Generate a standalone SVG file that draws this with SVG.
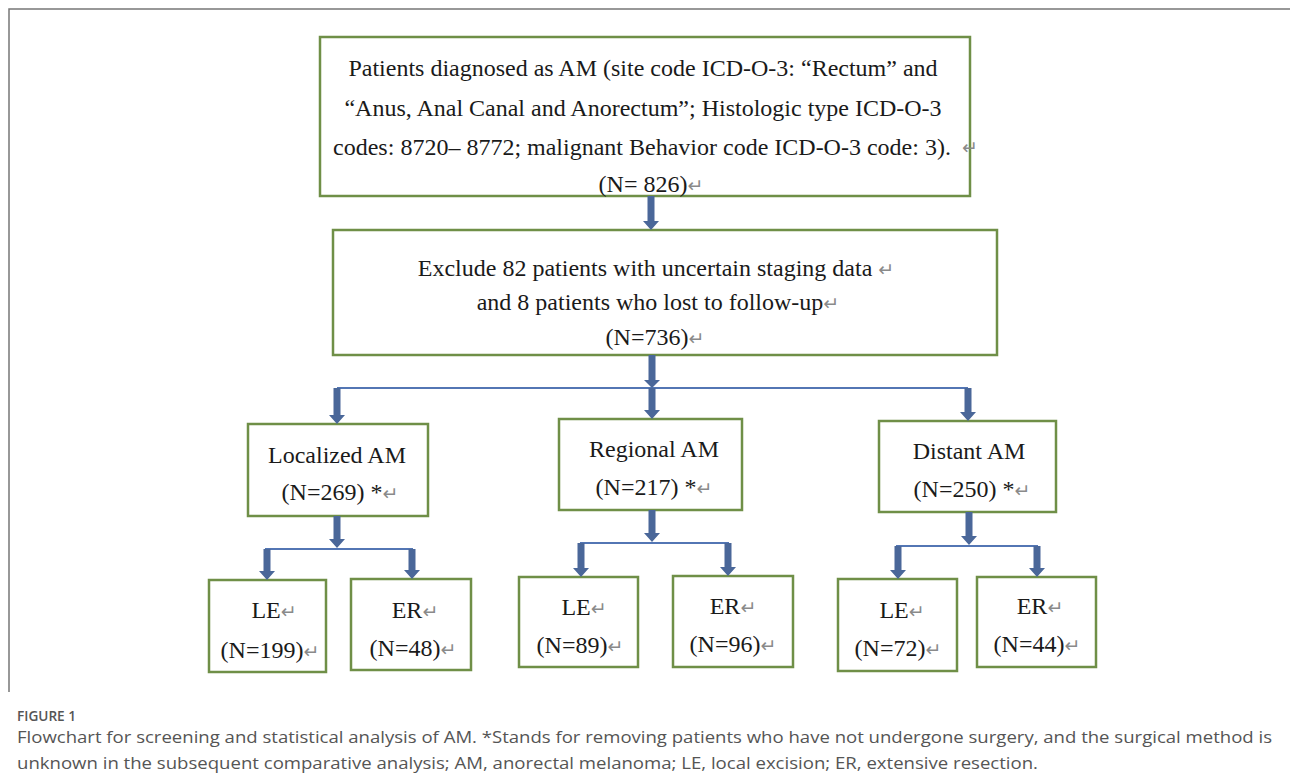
<svg xmlns="http://www.w3.org/2000/svg" width="1290" height="780" viewBox="0 0 1290 780">
<style>
.box{fill:#fff;stroke:#6f8f47;stroke-width:2.5}
.t{font-family:"Liberation Serif","Times New Roman",serif;font-size:24px;fill:#1a1a1a;text-anchor:middle}
.r{fill:#8a8a8a;font-family:"DejaVu Sans",sans-serif;font-size:19px}
.arr{fill:#4a6799}
.hl{stroke:#5376b4;stroke-width:2;fill:none}
.frame{stroke:#777;stroke-width:1.5;fill:none}
.cap{font-family:"Open Sans","DejaVu Sans",sans-serif;fill:#555}
</style>
<path class="frame" d="M9 692 V9 H1290"/>

<g id="n1">
<rect class="box" x="320" y="37" width="650" height="159"/>
<text class="t" x="643" y="76">Patients diagnosed as AM (site code ICD-O-3: “Rectum” and</text>
<text class="t" x="643" y="116">“Anus, Anal Canal and Anorectum”; Histologic type ICD-O-3</text>
<text class="t" x="642" y="155">codes: 8720– 8772; malignant Behavior code ICD-O-3 code: 3).</text>
<text class="t r" x="962" y="154" style="text-anchor:start">↵</text>
<text class="t" x="651" y="192">(N= 826)<tspan class="r">↵</tspan></text>
</g>

<g id="n2">
<rect class="box" x="333" y="230" width="664" height="125"/>
<text class="t" x="656" y="276">Exclude 82 patients with uncertain staging data <tspan class="r">↵</tspan></text>
<text class="t" x="658" y="310">and 8 patients who lost to follow-up<tspan class="r">↵</tspan></text>
<text class="t" x="655" y="345">(N=736)<tspan class="r">↵</tspan></text>
</g>

<g id="n3">
<rect class="box" x="248" y="424" width="180" height="92"/>
<text class="t" x="337" y="463">Localized AM</text>
<text class="t" x="340" y="500">(N=269) *<tspan class="r">↵</tspan></text>
</g>
<g id="n4">
<rect class="box" x="559" y="419" width="183" height="91"/>
<text class="t" x="654" y="457">Regional AM</text>
<text class="t" x="654" y="495">(N=217) *<tspan class="r">↵</tspan></text>
</g>
<g id="n5">
<rect class="box" x="879" y="421" width="177" height="91"/>
<text class="t" x="969" y="459">Distant AM</text>
<text class="t" x="972" y="497">(N=250) *<tspan class="r">↵</tspan></text>
</g>

<g id="n6">
<rect class="box" x="209" y="580" width="117" height="92"/>
<text class="t" x="274" y="618">LE<tspan class="r">↵</tspan></text>
<text class="t" x="270" y="658">(N=199)<tspan class="r">↵</tspan></text>
</g>
<g id="n7">
<rect class="box" x="351" y="579" width="120" height="91"/>
<text class="t" x="415" y="618">ER<tspan class="r">↵</tspan></text>
<text class="t" x="413" y="656">(N=48)<tspan class="r">↵</tspan></text>
</g>
<g id="n8">
<rect class="box" x="519" y="577" width="119" height="90"/>
<text class="t" x="584" y="615">LE<tspan class="r">↵</tspan></text>
<text class="t" x="580" y="653">(N=89)<tspan class="r">↵</tspan></text>
</g>
<g id="n9">
<rect class="box" x="673" y="576" width="120" height="91"/>
<text class="t" x="733" y="614">ER<tspan class="r">↵</tspan></text>
<text class="t" x="733" y="652">(N=96)<tspan class="r">↵</tspan></text>
</g>
<g id="n10">
<rect class="box" x="838" y="579" width="119" height="92"/>
<text class="t" x="902" y="618">LE<tspan class="r">↵</tspan></text>
<text class="t" x="898" y="656">(N=72)<tspan class="r">↵</tspan></text>
</g>
<g id="n11">
<rect class="box" x="977" y="577" width="119" height="90"/>
<text class="t" x="1040" y="614">ER<tspan class="r">↵</tspan></text>
<text class="t" x="1037" y="652">(N=44)<tspan class="r">↵</tspan></text>
</g>

<g id="connectors">
<path class="hl" d="M337 388 H968"/>
<path class="hl" d="M265 549 H413"/>
<path class="hl" d="M580 543 H729"/>
<path class="hl" d="M896 546 H1038"/>
<path class="arr" d="M647.5 196 V221 H643 L651 230 L659 221 H654.5 V196 Z"/>
<path class="arr" d="M648.5 355 V380 H644 L652 388 L660 380 H655.5 V355 Z"/>
<path class="arr" d="M648.5 388 V410 H644 L652 419 L660 410 H655.5 V388 Z"/>
<path class="arr" d="M333.5 388 V415 H329 L337 424 L345 415 H340.5 V388 Z"/>
<path class="arr" d="M964.5 388 V412 H960 L968 421 L976 412 H971.5 V388 Z"/>
<path class="arr" d="M333.5 516 V539 H329 L337 548 L345 539 H340.5 V516 Z"/>
<path class="arr" d="M263.5 549 V571 H259 L267 580 L275 571 H270.5 V549 Z"/>
<path class="arr" d="M408.5 549 V570 H404 L412 579 L420 570 H415.5 V549 Z"/>
<path class="arr" d="M648.5 510 V533 H644 L652 542 L660 533 H655.5 V510 Z"/>
<path class="arr" d="M577.5 543 V568 H573 L581 577 L589 568 H584.5 V543 Z"/>
<path class="arr" d="M724.5 543 V567 H720 L728 576 L736 567 H731.5 V543 Z"/>
<path class="arr" d="M965.5 512 V536 H961 L969 545 L977 536 H972.5 V512 Z"/>
<path class="arr" d="M894.5 546 V570 H890 L898 579 L906 570 H901.5 V546 Z"/>
<path class="arr" d="M1033.5 546 V568 H1029 L1037 577 L1045 568 H1040.5 V546 Z"/>
</g>

<g id="caption">
<text class="cap" x="17" y="721" font-size="14" font-weight="600" fill="#444" textLength="59" lengthAdjust="spacingAndGlyphs">FIGURE 1</text>
<text class="cap" x="17" y="743" font-size="17" textLength="1255" lengthAdjust="spacingAndGlyphs">Flowchart for screening and statistical analysis of AM. *Stands for removing patients who have not undergone surgery, and the surgical method is</text>
<text class="cap" x="17" y="769" font-size="17" textLength="1021" lengthAdjust="spacingAndGlyphs">unknown in the subsequent comparative analysis; AM, anorectal melanoma; LE, local excision; ER, extensive resection.</text>
</g>
</svg>
